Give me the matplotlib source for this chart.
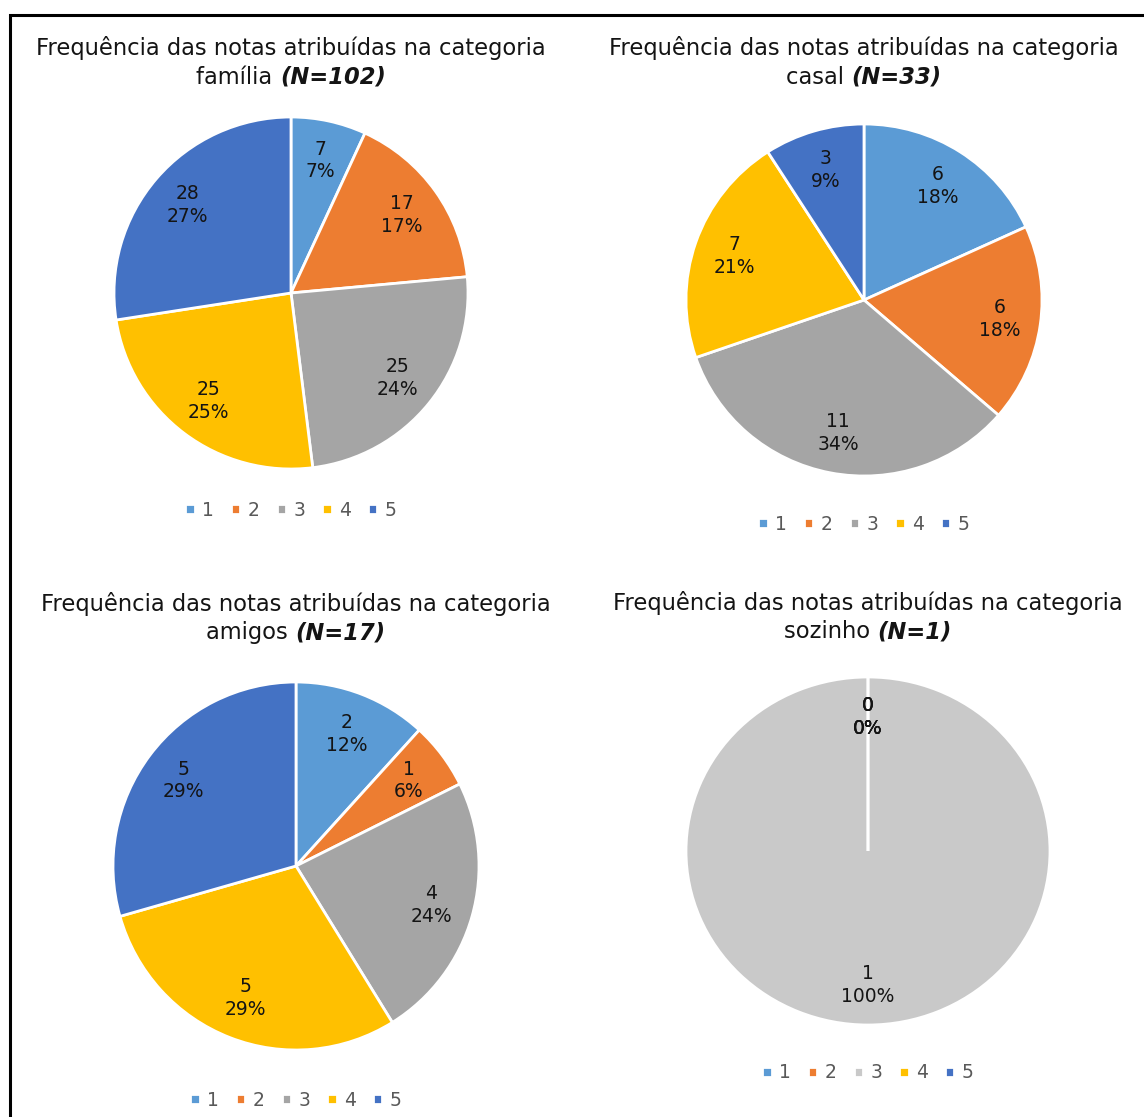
import matplotlib.pyplot as plt
from matplotlib.patches import Rectangle

# notas 1..5
notas = ['1', '2', '3', '4', '5']

familia = [7, 17, 25, 25, 28]
familia_pct = [7, 17, 24, 25, 27]
casal = [6, 6, 11, 7, 3]
casal_pct = [18, 18, 34, 21, 9]
amigos = [2, 1, 4, 5, 5]
amigos_pct = [12, 6, 24, 29, 29]
sozinho = [0, 0, 1, 0, 0]
sozinho_pct = [0, 0, 100, 0, 0]

cores = ['#5B9BD5', '#ED7D31', '#A5A5A5', '#FFC000', '#4472C4']
cores_sozinho = ['#5B9BD5', '#ED7D31', '#C9C9C9', '#FFC000', '#4472C4']

W, H = 1144, 1117
fig = plt.figure(figsize=(W / 100, H / 100), dpi=100)
fig.patch.set_facecolor('white')

# moldura preta
fig.patches.append(Rectangle((9.5 / W, -0.1), 1.2, (H - 14.5) / H + 0.1,
                             transform=fig.transFigure, fill=False,
                             edgecolor='black', linewidth=2.2))

renderer = fig.canvas.get_renderer()
txt_cor = '#141414'


def titulo(cx, y, nome, n):
    fx = cx / W
    fig.text(fx, 1 - y / H, 'Frequência das notas atribuídas na categoria',
             ha='center', va='center', fontsize=16.3, color=txt_cor)
    y2 = 1 - (y + 29) / H
    t1 = fig.text(0, y2, nome + ' ', ha='left', va='center', fontsize=16.3, color=txt_cor)
    t2 = fig.text(0, y2, '(N=%d)' % n, ha='left', va='center', fontsize=16.3,
                  color=txt_cor, style='italic', weight='bold')
    w1 = t1.get_window_extent(renderer).width
    w2 = t2.get_window_extent(renderer).width
    x0 = cx - (w1 + w2) / 2
    t1.set_x(x0 / W)
    t2.set_x((x0 + w1) / W)


def pizza(cx, cy, rx, ry, valores, pcts, cols, ly):
    ax = fig.add_axes([(cx - rx) / W, 1 - (cy + ry) / H, 2 * rx / W, 2 * ry / H])
    labels = ['%d\n%d%%' % (v, p) for v, p in zip(valores, pcts)]
    wedges, texts = ax.pie(valores, colors=cols, startangle=90, counterclock=False,
                           labels=labels, labeldistance=0.77, radius=1,
                           wedgeprops=dict(edgecolor='white', linewidth=2),
                           textprops=dict(fontsize=13.5, color=txt_cor))
    for t in texts:
        t.set_ha('center')
        t.set_va('center')
        t.set_multialignment('center')
        t.set_linespacing(1.25)
    ax.set_xlim(-1, 1)
    ax.set_ylim(-1, 1)
    ax.set_aspect('auto')
    ax.axis('off')
    fig.legend(wedges, notas, loc='center', bbox_to_anchor=(cx / W, 1 - ly / H),
               ncol=5, frameon=False, fontsize=13.5, labelcolor='#595959',
               handlelength=0.5, handleheight=0.5, handletextpad=0.4,
               columnspacing=0.9)


titulo(291, 48, 'família', 102)
pizza(291, 293, 177, 176, familia, familia_pct, cores, 510)

titulo(864, 48, 'casal', 33)
pizza(864, 300, 178, 176, casal, casal_pct, cores, 524)

titulo(296, 604, 'amigos', 17)
pizza(296, 866, 183, 184, amigos, amigos_pct, cores, 1100)

titulo(868, 603, 'sozinho', 1)
pizza(868, 851, 182, 174, sozinho, sozinho_pct, cores_sozinho, 1073)

fig.savefig('out.png', dpi=100)
